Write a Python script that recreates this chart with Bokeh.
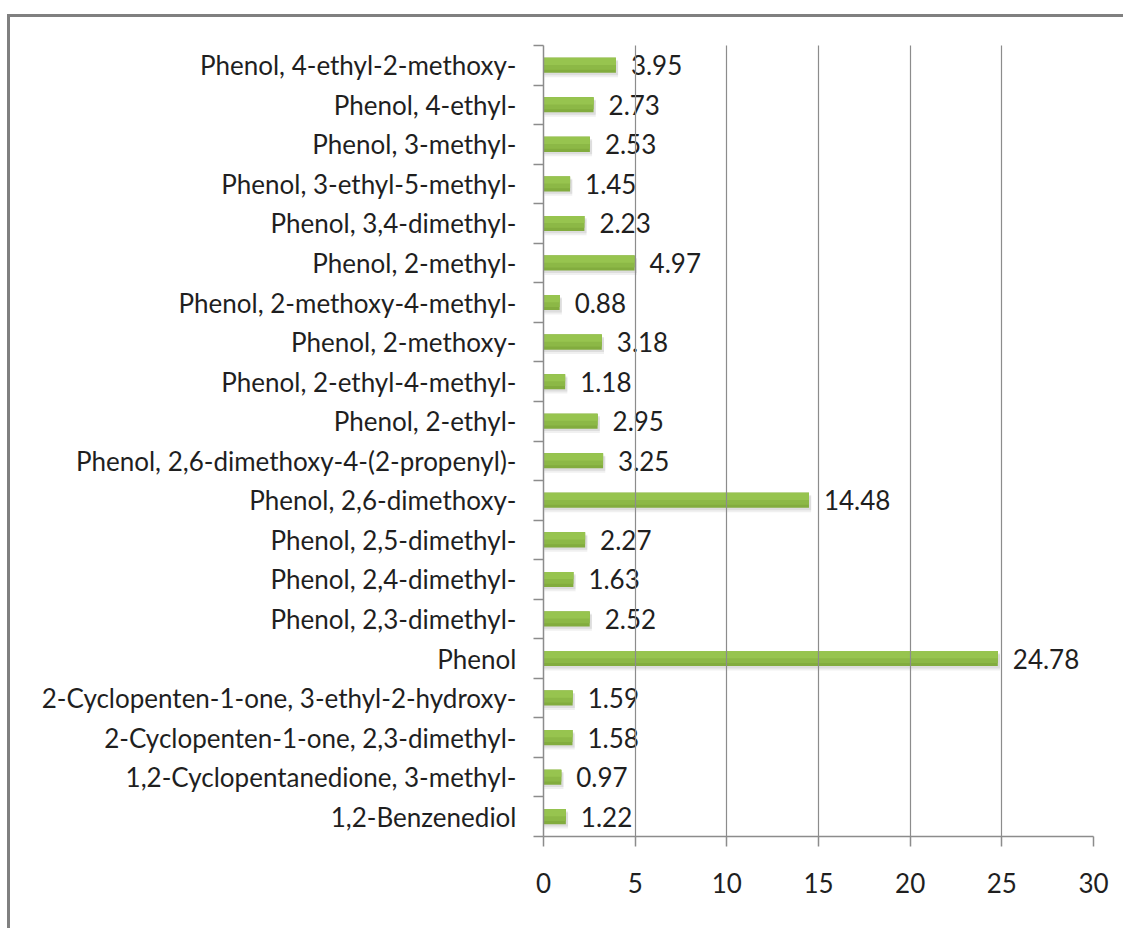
from bokeh.plotting import figure
from bokeh.models import Range1d, FixedTicker, ColumnDataSource, LabelSet
from bokeh.core.properties import value
from bokeh.embed import file_html
from bokeh.resources import INLINE

# Data (bottom to top)
compounds = [
    "1,2-Benzenediol",
    "1,2-Cyclopentanedione, 3-methyl-",
    "2-Cyclopenten-1-one, 2,3-dimethyl-",
    "2-Cyclopenten-1-one, 3-ethyl-2-hydroxy-",
    "Phenol",
    "Phenol, 2,3-dimethyl-",
    "Phenol, 2,4-dimethyl-",
    "Phenol, 2,5-dimethyl-",
    "Phenol, 2,6-dimethoxy-",
    "Phenol, 2,6-dimethoxy-4-(2-propenyl)-",
    "Phenol, 2-ethyl-",
    "Phenol, 2-ethyl-4-methyl-",
    "Phenol, 2-methoxy-",
    "Phenol, 2-methoxy-4-methyl-",
    "Phenol, 2-methyl-",
    "Phenol, 3,4-dimethyl-",
    "Phenol, 3-ethyl-5-methyl-",
    "Phenol, 3-methyl-",
    "Phenol, 4-ethyl-",
    "Phenol, 4-ethyl-2-methoxy-",
]
values = [1.22, 0.97, 1.58, 1.59, 24.78, 2.52, 1.63, 2.27, 14.48, 3.25,
          2.95, 1.18, 3.18, 0.88, 4.97, 2.23, 1.45, 2.53, 2.73, 3.95]
value_labels = ["1.22", "0.97", "1.58", "1.59", "24.78", "2.52", "1.63", "2.27", "14.48", "3.25",
                "2.95", "1.18", "3.18", "0.88", "4.97", "2.23", "1.45", "2.53", "2.73", "3.95"]
x_ticks = [0, 5, 10, 15, 20, 25, 30]

n = len(compounds)
centers = [i + 0.5 for i in range(n)]
src = ColumnDataSource(dict(
    y=centers, v=values, lab=value_labels,
    vs=[v + 0.12 for v in values],
    ys1=[c - 0.10 for c in centers],
    ys2=[c - 0.06 for c in centers],
    ym=[c + 0.04 for c in centers],
    yt=[c + 0.10 for c in centers],
))

FONT = "Lato"
GRID = "#8c8c8c"
TXT = "#1f1f1f"

p = figure(width=1116, height=914, x_range=Range1d(0, 30), y_range=Range1d(0, n),
           output_backend="svg", toolbar_location=None,
           min_border_left=533, min_border_right=1116 - 533 - 550,
           min_border_top=28, min_border_bottom=914 - 28 - 791)
p.margin = (14, 0, 0, 7)
p.styles = {"border-left": "3px solid #808080", "border-top": "3px solid #808080"}
p.outline_line_color = None
p.background_fill_color = "white"
p.border_fill_color = "white"

# grid (drawn over bars as in the reference)
p.ygrid.visible = False
p.xgrid.ticker = FixedTicker(ticks=x_ticks[1:])
p.xgrid.grid_line_color = GRID
p.xgrid.grid_line_width = 1.2
p.xgrid.level = "overlay"

# soft shadow
p.hbar(y="ys1", left=0.05, right="vs", height=0.40, source=src,
       fill_color="#a0a0a0", fill_alpha=0.16, line_color=None)
p.hbar(y="ys2", left=0.03, right="vs", height=0.38, source=src,
       fill_color="#909090", fill_alpha=0.20, line_color=None)
# bar with a simple vertical gradient
p.hbar(y="y", left=0, right="v", height=0.38, source=src,
       fill_color="#82ac3e", line_color=None)
p.hbar(y="ym", left=0, right="v", height=0.30, source=src,
       fill_color="#8cb846", line_color=None)
p.hbar(y="yt", left=0, right="v", height=0.18, source=src,
       fill_color="#97c44f", line_color=None)

labels = LabelSet(x="v", y="y", text="lab", source=src, x_offset=15,
                  text_baseline="middle", text_align="left",
                  text_font=value(FONT), text_font_size="26px", text_color=TXT)
p.add_layout(labels)

# x axis
xa = p.xaxis[0]
xa.ticker = FixedTicker(ticks=x_ticks)
xa.axis_line_color = GRID
xa.axis_line_width = 1.5
xa.major_tick_line_color = GRID
xa.major_tick_line_width = 1.5
xa.major_tick_out = 10
xa.major_tick_in = 0
xa.minor_tick_line_color = None
xa.major_label_standoff = 26
xa.major_label_text_font = FONT
xa.major_label_text_font_size = "26px"
xa.major_label_text_color = TXT

# y axis
ya = p.yaxis[0]
ya.ticker = FixedTicker(ticks=centers, minor_ticks=list(range(n + 1)))
ya.major_label_overrides = {c: name for c, name in zip(centers, compounds)}
ya.axis_line_color = GRID
ya.axis_line_width = 1.5
ya.major_tick_out = 0
ya.major_tick_in = 0
ya.major_tick_line_color = None
ya.minor_tick_line_color = GRID
ya.minor_tick_line_width = 1.5
ya.minor_tick_out = 10
ya.minor_tick_in = 0
ya.major_label_standoff = 17
ya.major_label_text_font = FONT
ya.major_label_text_font_size = "26px"
ya.major_label_text_color = TXT

open("out.html", "w").write(file_html(p, INLINE))
